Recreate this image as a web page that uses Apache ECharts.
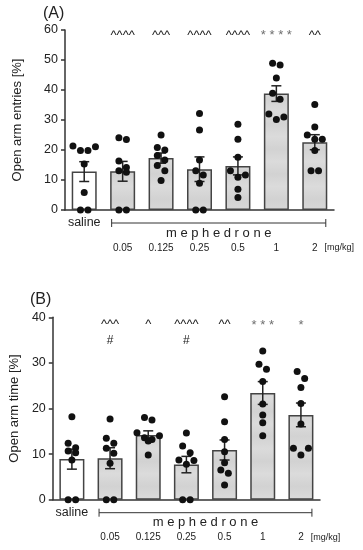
<!DOCTYPE html>
<html><head><meta charset="utf-8">
<script src="https://cdn.jsdelivr.net/npm/echarts@6/dist/echarts.min.js"></script>
<style>html,body{margin:0;padding:0;background:#fff}#c{width:363px;height:550px}</style>
</head><body><div id="c"></div>
<script>
// ---------- data ----------
const categories = ['saline', '0.05', '0.125', '0.25', '0.5', '1', '2'];
const doseUnit = '[mg/kg]';
const drugName = 'm e p h e d r o n e';
const entriesTicks = [0, 10, 20, 30, 40, 50, 60];
const timeTicks = [0, 10, 20, 30, 40];

const entriesMean = [12.8, 12.9, 17.3, 13.6, 14.7, 38.8, 22.6];
const entriesSem  = [3.3, 3.3, 1.7, 4.1, 3.0, 2.6, 2.5];
const entriesPoints = [
  [21.3, 21.1, 19.8, 19.8, 15.3, 5.8, 0, 0],
  [24.1, 23.5, 16.3, 14.2, 13.1, 12.6, 0, 0],
  [25.0, 20.8, 20.0, 18.2, 16.7, 14.8, 13.1, 9.8],
  [32.2, 26.7, 16.7, 13.1, 11.7, 8.9, 0, 0],
  [28.6, 23.6, 17.6, 13.1, 11.7, 10.9, 6.9, 4.2],
  [48.9, 48.3, 44.0, 38.9, 36.9, 32.0, 31.0, 30.2],
  [35.2, 27.7, 25.0, 23.6, 23.6, 19.8, 13.1, 13.1]
];
const entriesMarks = ['', '^^^^', '^^^', '^^^^', '^^^^', '* * * *', '^^'];
const entriesHash  = ['', '', '', '', '', '', ''];

const timeMean = [8.9, 9.1, 14.2, 7.7, 10.9, 23.4, 18.6];
const timeSem  = [2.2, 2.3, 0.9, 1.8, 2.2, 2.5, 2.6];
const timePoints = [
  [18.2, 12.4, 11.4, 10.7, 10.3, 8.7, 0, 0],
  [17.7, 13.5, 12.4, 11.3, 10.2, 8.0, 0, 0],
  [18.0, 17.5, 14.7, 14.0, 13.6, 13.2, 12.9, 9.8],
  [14.6, 11.8, 10.3, 8.7, 8.6, 7.8, 0, 0],
  [22.6, 17.1, 13.2, 10.5, 8.1, 6.5, 5.8, 3.2],
  [32.6, 29.7, 28.6, 25.9, 21.0, 18.6, 16.9, 14.0],
  [28.1, 26.6, 24.6, 21.1, 16.6, 11.3, 11.3, 9.8]
];
const timeMarks = ['', '^^^', '^', '^^^^', '^^', '* * *', '*'];
const timeHash  = ['', '#', '', '#', '', '', ''];

// ---------- layout / style ----------
const FONT = 'Liberation Sans, Arial, sans-serif';
const INK = '#222';
const panels = [
  { grid: { left: 65, top: 30, width: 269, height: 180 }, ticks: entriesTicks, name: 'Open arm entries [%]', nameGap: 41,
    mean: entriesMean, sem: entriesSem, points: entriesPoints, marks: entriesMarks, hash: entriesHash,
    markLevel: 58.2, hashLevel: 52, tag: '(A)', tagPos: [43, 6] },
  { grid: { left: 50, top: 317.3, width: 270, height: 182.4 }, ticks: timeTicks, name: 'Open arm time [%]', nameGap: 26.5,
    mean: timeMean, sem: timeSem, points: timePoints, marks: timeMarks, hash: timeHash,
    markLevel: 38.4, hashLevel: 34.8, tag: '(B)', tagPos: [30, 292] }
];

function swarm(vals, pxPerUnit, D, T) {
  const idx = vals.map((v, i) => i).sort((a, b) => vals[b] - vals[a]);
  const off = new Array(vals.length).fill(0);
  const rows = []; let cur = null;
  idx.forEach(i => {
    if (cur && (vals[cur[0]] - vals[i]) * pxPerUnit < T) cur.push(i);
    else { cur = [i]; rows.push(cur); }
  });
  rows.forEach(r => {
    const n = r.length, order = [];
    let lo = 0, hi = n - 1, t = 0;
    while (lo <= hi) { order.push(t % 2 === 0 ? lo++ : hi--); t++; }
    r.forEach((i, k) => { off[i] = (order[k] - (n - 1) / 2) * D; });
  });
  return off;
}

function stripes(top, height) {
  const stops = [];
  const period = 25, phase = 19;
  for (let y = phase - period; y <= height + period; y += period / 2) {
    const o = y / height;
    const dark = Math.round((y - phase) / (period / 2)) % 2 === 0;
    if (o >= 0 && o <= 1) stops.push({ offset: o, color: dark ? '#d2d2d2' : '#dbdbdb' });
  }
  stops.unshift({ offset: 0, color: '#d8d8d8' });
  stops.push({ offset: 1, color: '#d7d7d7' });
  stops.sort((a, b) => a.offset - b.offset);
  return { type: 'linear', x: 0, y: top, x2: 0, y2: top + height, global: true, colorStops: stops };
}

const grids = [], xAxes = [], yAxes = [], series = [], graphics = [];
panels.forEach((p, gi) => {
  grids.push(p.grid);
  const ymax = p.ticks[p.ticks.length - 1];
  const pxu = p.grid.height / (ymax - p.ticks[0]);
  xAxes.push({
    gridIndex: gi, type: 'category', data: categories,
    axisLine: { lineStyle: { color: '#333', width: 1.5 } }, axisTick: { show: false },
    axisLabel: { formatter: (v, i) => i === 0 ? v : '', margin: 6.5, fontSize: 12.5, color: INK, fontFamily: FONT, interval: 0 }
  });
  xAxes.push({
    gridIndex: gi, type: 'category', data: categories, position: 'bottom',
    axisLine: { show: false }, axisTick: { show: false },
    axisLabel: { formatter: (v, i) => i === 0 ? '' : v, margin: 33, fontSize: 10, color: INK, fontFamily: FONT, interval: 0 }
  });
  yAxes.push({
    gridIndex: gi, type: 'value', min: p.ticks[0], max: ymax, interval: p.ticks[1] - p.ticks[0],
    axisLine: { show: true, lineStyle: { color: '#333', width: 1.5 } },
    axisTick: { show: true, length: 4, lineStyle: { color: '#333', width: 1.5 } },
    splitLine: { show: false },
    axisLabel: { fontSize: 12.5, color: INK, margin: 7, fontFamily: FONT },
    name: p.name, nameLocation: 'middle', nameGap: p.nameGap,
    nameTextStyle: { fontSize: 13, color: INK, fontFamily: FONT }
  });
  const xi = gi * 2, yi = gi;
  const fill = stripes(p.grid.top, p.grid.height);
  series.push({
    type: 'bar', xAxisIndex: xi, yAxisIndex: yi, barWidth: 25, z: 2,
    data: p.mean.map((m, i) => ({ value: m, itemStyle: { color: i === 0 ? '#ffffff' : fill } })),
    itemStyle: { borderColor: '#444', borderWidth: 1.5 }
  });
  series.push({
    type: 'custom', xAxisIndex: xi, yAxisIndex: yi, z: 3,
    data: p.mean.map((m, i) => [i, m, p.sem[i]]),
    renderItem: (params, api) => {
      const x = api.value(0), m = api.value(1), s = api.value(2);
      const t = api.coord([x, m + s]), b = api.coord([x, m - s]);
      const st = { stroke: '#222', lineWidth: 1.5 };
      return { type: 'group', children: [
        { type: 'line', shape: { x1: t[0], y1: t[1], x2: b[0], y2: b[1] }, style: st },
        { type: 'line', shape: { x1: t[0] - 5, y1: t[1], x2: t[0] + 5, y2: t[1] }, style: st },
        { type: 'line', shape: { x1: b[0] - 5, y1: b[1], x2: b[0] + 5, y2: b[1] }, style: st }
      ] };
    }
  });
  const pts = [];
  p.points.forEach((vals, i) => {
    const off = swarm(vals, pxu, 7.5, 7);
    vals.forEach((v, k) => pts.push({ value: [i, v], symbolOffset: [off[k], 0] }));
  });
  series.push({
    type: 'scatter', xAxisIndex: xi, yAxisIndex: yi, z: 4, symbolSize: 7,
    itemStyle: { color: '#111', opacity: 1 }, data: pts, silent: true
  });
  series.push({
    type: 'custom', xAxisIndex: xi, yAxisIndex: yi, z: 5,
    data: categories.map((c, i) => [i, p.markLevel, p.hashLevel]),
    renderItem: (params, api) => {
      const i = params.dataIndex;
      const kids = [];
      const m = p.marks[i], h = p.hash[i];
      if (m) {
        const c = api.coord([i, api.value(1)]);
        const star = m.indexOf('*') >= 0;
        kids.push({ type: 'text', x: c[0], y: star ? c[1] + 0.5 : c[1], style: { text: m, fill: star ? '#6f6f6f' : '#222',
          fontSize: 13, fontFamily: FONT, align: 'center', verticalAlign: 'middle' } });
      }
      if (h) {
        const c = api.coord([i, api.value(2)]);
        kids.push({ type: 'text', x: c[0], y: c[1], style: { text: h, fill: '#222',
          fontSize: 12, fontFamily: FONT, align: 'center', verticalAlign: 'middle' } });
      }
      return { type: 'group', children: kids };
    }
  });
  series.push({
    type: 'custom', xAxisIndex: xi, yAxisIndex: yi, z: 5, clip: false,
    data: [[1, 6]],
    renderItem: (params, api) => {
      const a = api.coord([api.value(0), 0]), b = api.coord([api.value(1), 0]);
      const y = a[1] + 13, ext = 11;
      const x1 = a[0] - ext, x2 = b[0] + ext;
      const st = { stroke: '#333', lineWidth: 1 };
      return { type: 'group', children: [
        { type: 'line', shape: { x1, y1: y, x2, y2: y }, style: st },
        { type: 'line', shape: { x1, y1: y - 4, x2: x1, y2: y + 4 }, style: st },
        { type: 'line', shape: { x1: x2, y1: y - 4, x2, y2: y + 4 }, style: st },
        { type: 'text', x: (a[0] + b[0]) / 2, y: a[1] + 23, style: { text: drugName, fill: INK, fontSize: 13,
          fontFamily: FONT, align: 'center', verticalAlign: 'middle' } },
        { type: 'text', x: b[0] + 24.5, y: a[1] + 38, style: { text: doseUnit, fill: INK, fontSize: 9,
          fontFamily: FONT, align: 'center', verticalAlign: 'middle' } }
      ] };
    }
  });
  graphics.push({ type: 'text', left: p.tagPos[0], top: p.tagPos[1],
    style: { text: p.tag, fontSize: 16, fill: INK, fontFamily: FONT } });
});

const chart = echarts.init(document.getElementById('c'), null, { renderer: 'canvas' });
chart.setOption({
  animation: false,
  backgroundColor: '#ffffff',
  textStyle: { fontFamily: FONT },
  grid: grids, xAxis: xAxes, yAxis: yAxes, series, graphic: graphics
});
</script>
</body></html>
